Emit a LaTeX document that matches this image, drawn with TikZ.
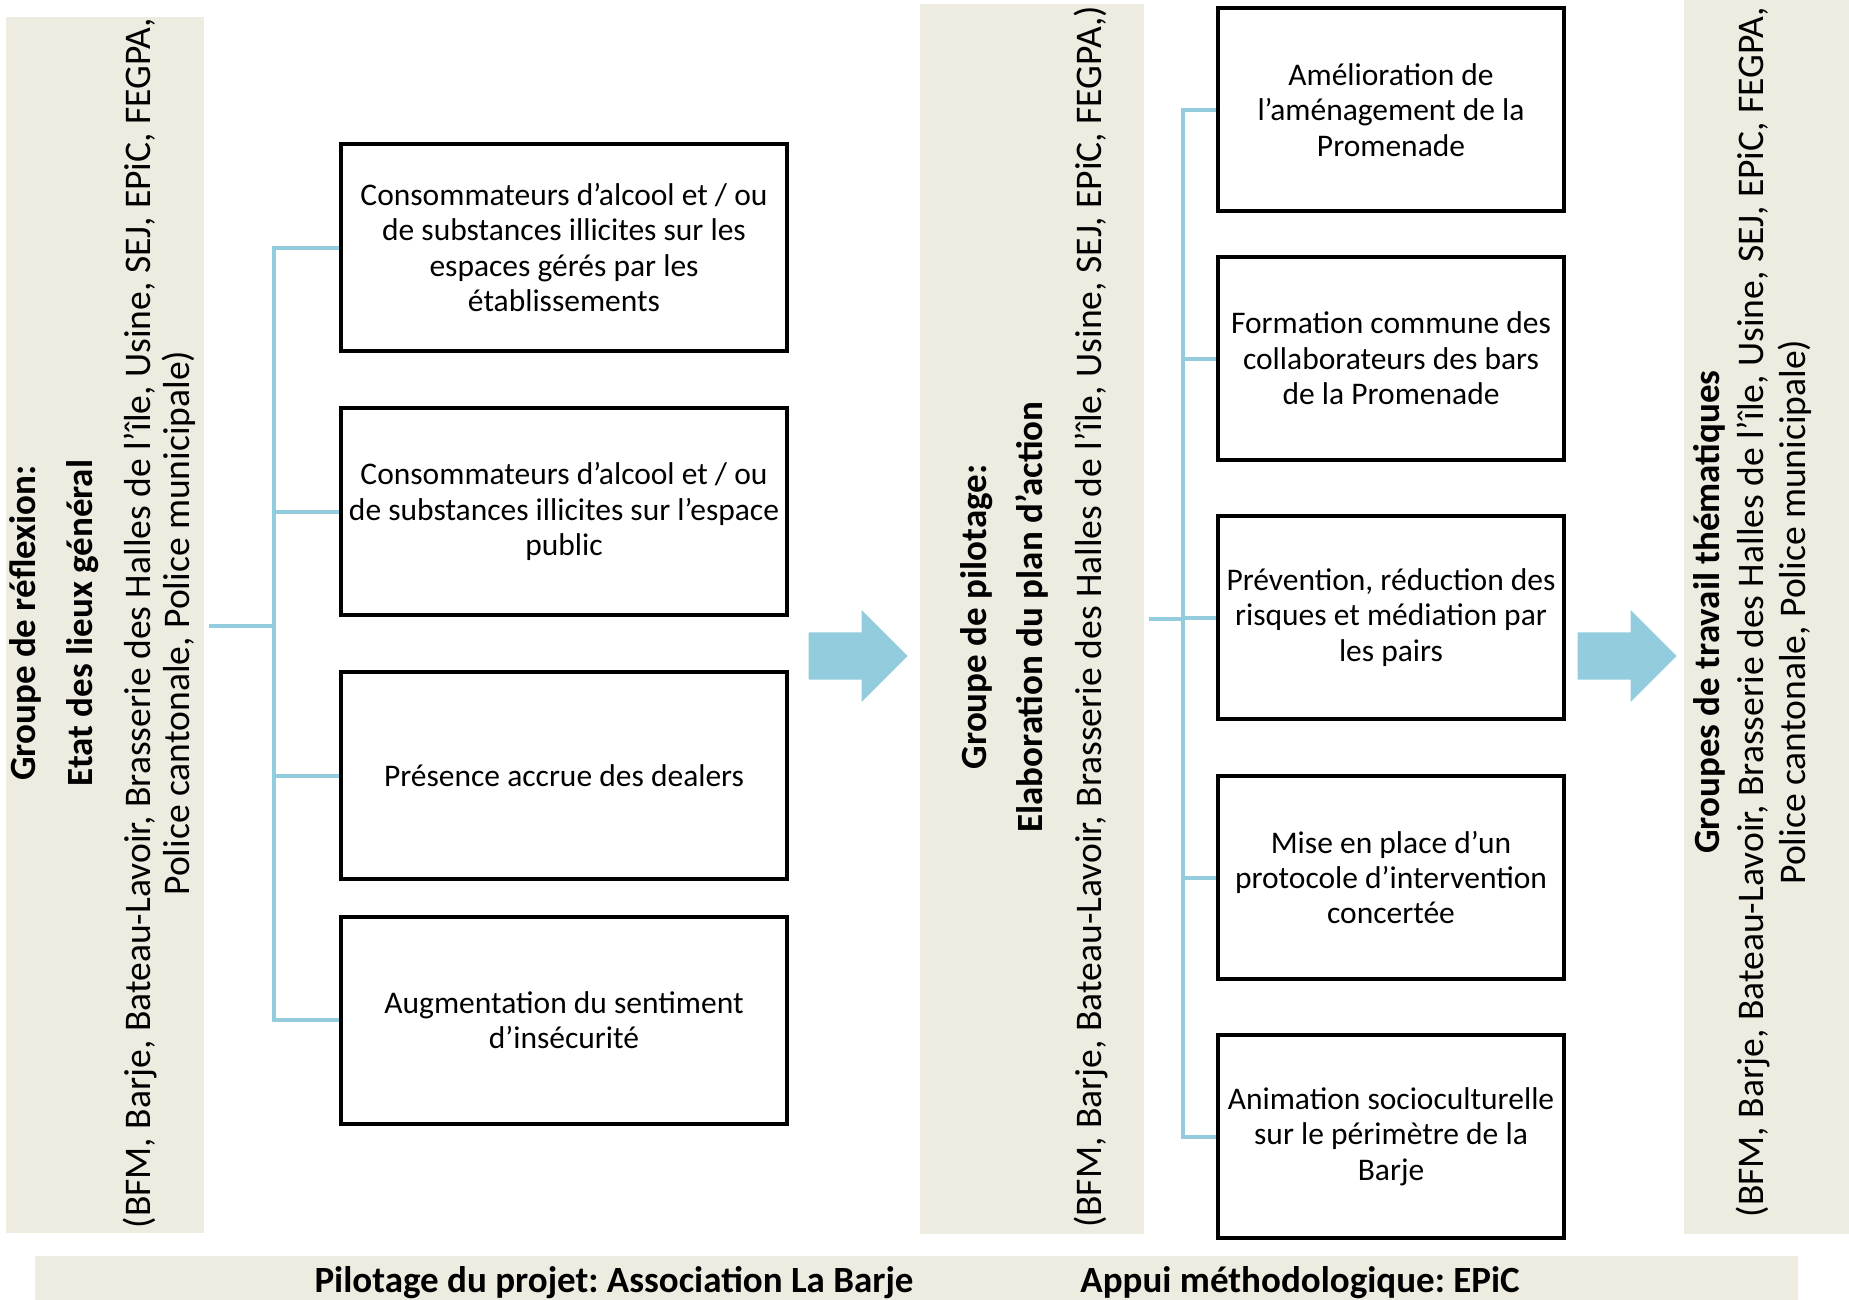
\documentclass[tikz,border=0pt]{standalone}
\usepackage{fontspec}
\setmainfont{Carlito}
\frenchspacing
\usetikzlibrary{positioning,shapes.arrows}
\definecolor{panelbeige}{HTML}{EEECE1}
\definecolor{linkblue}{HTML}{93CDDD}
\newcommand{\paneltitle}[1]{{\fontsize{37}{39}\selectfont\bfseries #1}}
\tikzset{
  panel/.style={fill=panelbeige, draw=none, inner sep=0pt},
  paneltext/.style={rotate=90, align=center, inner sep=0pt,
    font=\fontsize{37.6}{39}\selectfont},
  theme/.style={draw, line width=4pt, align=center, inner sep=2pt,
    font=\fontsize{31.5}{35.4}\selectfont},
  leftbox/.style={theme, minimum width=446pt, minimum height=207pt},
  rightbox/.style={theme, minimum width=346pt, minimum height=203pt},
  link/.style={draw=linkblue, line width=4pt},
  bigarrow/.style={single arrow, fill=linkblue, draw=none, inner xsep=0pt,
    inner ysep=23.5pt, minimum height=99pt, single arrow head extend=22.5pt,
    anchor=tip},
  bartext/.style={anchor=base, inner sep=0pt,
    font=\bfseries\fontsize{37}{39}\selectfont}
}

\begin{document}
\begin{tikzpicture}[x=1pt,y=-1pt]
  \useasboundingbox (0,0) rectangle (1849,1300);

  % panels
  \node[panel, minimum width=198pt, minimum height=1216pt] (reflexion) at (105,625) {};
  \node[panel, minimum width=224pt, minimum height=1230pt] (pilotage) at (1032,619) {};
  \node[panel, minimum width=165pt, minimum height=1234pt] (groupes) at (1766.5,617) {};
  \node[panel, minimum width=1763pt, minimum height=44pt] (bar) at (916.5,1278) {};

  \node[paneltext] (reflexiontxt) at (103,623)
    {\paneltitle{Groupe de réflexion:}\\[18pt]
     \paneltitle{Etat des lieux général}\\[19pt]
     (BFM, Barje, Bateau-Lavoir, Brasserie des Halles de l’île, Usine, SEJ, EPiC, FEGPA,\\
     Police cantonale, Police municipale)};
  \node[paneltext] (pilotagetxt) at (1034,617)
    {\paneltitle{Groupe de pilotage:}\\[17pt]
     \paneltitle{Elaboration du plan d’action}\\[20pt]
     (BFM, Barje, Bateau-Lavoir, Brasserie des Halles de l’île, Usine, SEJ, EPiC, FEGPA,)};
  \node[paneltext, font=\fontsize{37.6}{42}\selectfont] (groupestxt) at (1752,612)
    {\paneltitle{Groupes de travail thématiques}\\[2pt]
     (BFM, Barje, Bateau-Lavoir, Brasserie des Halles de l’île, Usine, SEJ, EPiC, FEGPA,\\
     Police cantonale, Police municipale)};

  \node[bartext] (pilotageprojet) at (614,1292) {Pilotage du projet: Association La Barje};
  \node[bartext] (appui) at (1300,1292) {Appui méthodologique: EPiC};

  % findings
  \node[leftbox] (conso1) at (564,247.5)
    {Consommateurs d’alcool et / ou\\ de substances illicites sur les\\ espaces gérés par les\\ établissements};
  \node[leftbox] (conso2) [below=53pt of conso1]
    {Consommateurs d’alcool et / ou\\ de substances illicites sur l’espace\\ public};
  \node[leftbox] (dealers) [below=53pt of conso2] {Présence accrue des dealers};
  \node[leftbox] (insecurite) [below=33.5pt of dealers]
    {Augmentation du sentiment\\ d’insécurité};

  % actions
  \node[rightbox] (amenag) at (1391,110)
    {Amélioration de\\ l’aménagement de la\\ Promenade};
  \node[rightbox] (formation) [below=41.5pt of amenag]
    {Formation commune des\\ collaborateurs des bars\\ de la Promenade};
  \node[rightbox] (prevention) [below=52pt of formation]
    {Prévention, réduction des\\ risques et médiation par\\ les pairs};
  \node[rightbox] (protocole) [below=53pt of prevention]
    {Mise en place d’un\\ protocole d’intervention\\ concertée};
  \node[rightbox] (animation) [below=52pt of protocole]
    {Animation socioculturelle\\ sur le périmètre de la\\ Barje};

  \node[bigarrow] (arrow1) at (908,656) {};
  \node[bigarrow] (arrow2) at (1677,656) {};

  % connectors
  \coordinate (leftout) at (209,626);
  \coordinate (leftbus) at (274,626);
  \coordinate (rightout) at (1149,619);
  \coordinate (rightbus) at (1183,619);

  \draw[link] (conso1.west) -- (leftbus |- conso1.west)
    -- (leftbus |- insecurite.west) -- (insecurite.west);
  \path[link] (leftout) edge (leftbus)
    (leftbus |- conso2.west) edge (conso2.west)
    (leftbus |- dealers.west) edge (dealers.west);

  \draw[link] (amenag.west) -- (rightbus |- amenag.west)
    -- (rightbus |- animation.west) -- (animation.west);
  \path[link] (rightout) edge (rightbus)
    (rightbus |- formation.west) edge (formation.west)
    (rightbus |- prevention.west) edge (prevention.west)
    (rightbus |- protocole.west) edge (protocole.west);
\end{tikzpicture}
\end{document}
